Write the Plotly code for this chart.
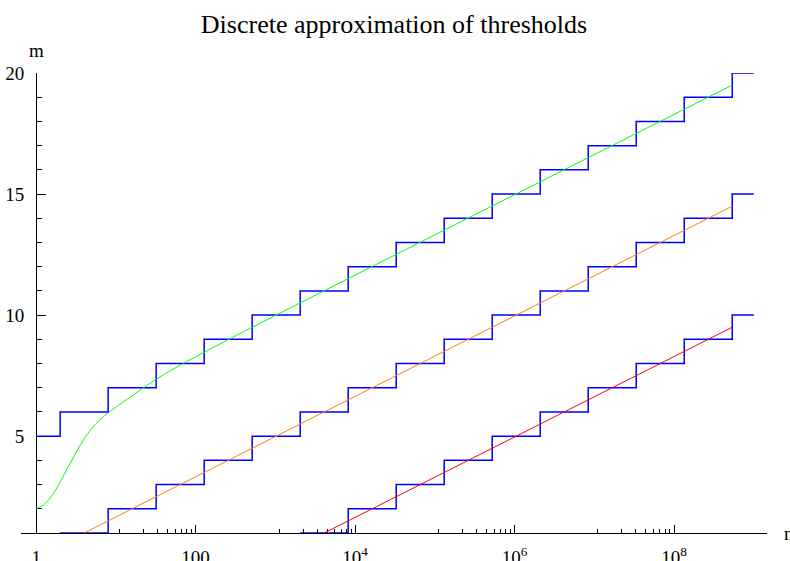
import plotly.graph_objects as go

title_text = "Discrete approximation of thresholds"

# Step functions: m jumps by one at n = 2, 8, 32, ... (factor 4), ending at n = 1e9
upper_n = [1, 2, 8, 32, 128, 512, 2048, 8192, 32768, 131072, 524288, 2097152,
           8388608, 33554432, 134217728, 536870912, 1000000000]
upper_m = [5, 6, 7, 8, 9, 10, 11, 12, 13, 14, 15, 16, 17, 18, 19, 20, 20]

middle_n = [2, 8, 32, 128, 512, 2048, 8192, 32768, 131072, 524288, 2097152,
            8388608, 33554432, 134217728, 536870912, 1000000000]
middle_m = [1, 2, 3, 4, 5, 6, 7, 8, 9, 10, 11, 12, 13, 14, 15, 15]

lower_n = [2048, 8192, 32768, 131072, 524288, 2097152, 8388608, 33554432,
           134217728, 536870912, 1000000000]
lower_m = [1, 2, 3, 4, 5, 6, 7, 8, 9, 10, 10]

# Continuous thresholds
green_n = [1, 1.26, 1.58, 2.0, 2.51, 3.16, 3.98, 5.01, 6.31, 7.94, 10,
           15.85, 25.1, 39.8, 63.1, 100, 200, 500, 536870912]
green_m = [2.0, 2.18, 2.55, 3.1, 3.72, 4.32, 4.88, 5.33, 5.68, 5.95, 6.2,
           6.66, 7.12, 7.54, 7.92, 8.28, 8.8, 9.48, 19.5]

orange_n = [4, 536870912]
orange_m = [1, 14.5]

red_n = [4096, 536870912]
red_m = [1, 9.5]

# Axis ticks
x_tickvals = [1, 100, 1e4, 1e6, 1e8]
x_ticktext = ["1", "100", "10<sup>4</sup>", "10<sup>6</sup>", "10<sup>8</sup>"]
x_minor = [d / 9 * j for d in (100, 1e4, 1e6, 1e8) for j in range(1, 9)]
y_tickvals = [5, 10, 15, 20]
y_minor = [v for v in range(1, 21) if v % 5]

FONT = "Liberation Serif, Times New Roman, serif"
BLUE = "rgb(0,0,255)"

fig = go.Figure()
for n, m in ((upper_n, upper_m), (middle_n, middle_m), (lower_n, lower_m)):
    fig.add_trace(go.Scatter(x=n, y=m, mode="lines", line_shape="hv",
                             line=dict(color=BLUE, width=1.5),
                             cliponaxis=False, showlegend=False))

fig.add_trace(go.Scatter(x=green_n, y=green_m, mode="lines", line_shape="spline",
                         line=dict(color="rgb(0,255,0)", width=1, smoothing=1),
                         cliponaxis=False, showlegend=False))
fig.add_trace(go.Scatter(x=orange_n, y=orange_m, mode="lines",
                         line=dict(color="rgb(255,128,0)", width=1),
                         cliponaxis=False, showlegend=False))
fig.add_trace(go.Scatter(x=red_n, y=red_m, mode="lines",
                         line=dict(color="rgb(255,0,0)", width=1),
                         cliponaxis=False, showlegend=False))

x_lo, x_hi = -0.19, 9.166
y_axis_pos = (0 - x_lo) / (x_hi - x_lo)

fig.update_layout(
    width=790, height=561,
    margin=dict(l=21, r=23, t=73, b=28, autoexpand=False),
    paper_bgcolor="white", plot_bgcolor="white",
    font=dict(family=FONT, color="black", size=19),
    title=dict(text=title_text, x=0.5, xref="paper", xanchor="center",
               y=1 - 15 / 561, yref="container", yanchor="top",
               font=dict(family=FONT, size=26, color="black")),
    xaxis=dict(type="log", range=[x_lo, x_hi], showgrid=False, zeroline=False,
               automargin=False,
               showline=True, linecolor="black", linewidth=1,
               tickmode="array", tickvals=x_tickvals, ticktext=x_ticktext,
               ticks="inside", ticklen=8, tickwidth=1, tickcolor="black",
               ticklabelstandoff=7,
               tickfont=dict(family=FONT, size=19, color="black"),
               minor=dict(tickmode="array", tickvals=x_minor, ticks="inside",
                          ticklen=4, tickwidth=1, tickcolor="black", showgrid=False),
               layer="below traces"),
    yaxis=dict(range=[1, 20], showgrid=False, zeroline=False,
               automargin=False,
               anchor="free", position=y_axis_pos,
               showline=True, linecolor="black", linewidth=1,
               tickmode="array", tickvals=y_tickvals,
               ticks="inside", ticklen=9, tickwidth=1, tickcolor="black",
               ticklabelstandoff=8,
               tickfont=dict(family=FONT, size=19, color="black"),
               minor=dict(tickmode="array", tickvals=y_minor, ticks="inside",
                          ticklen=5, tickwidth=1, tickcolor="black", showgrid=False),
               layer="below traces"),
    annotations=[
        dict(text="m", xref="paper", yref="paper", x=y_axis_pos, y=1 + 10 / 460,
             xanchor="center", yanchor="bottom", showarrow=False,
             font=dict(family=FONT, size=19, color="black")),
        dict(text="n", xref="paper", yref="paper", x=1 + 15 / 746, y=0,
             xanchor="left", yanchor="middle", showarrow=False,
             font=dict(family=FONT, size=19, color="black")),
    ],
)

fig.write_html("out.html")
